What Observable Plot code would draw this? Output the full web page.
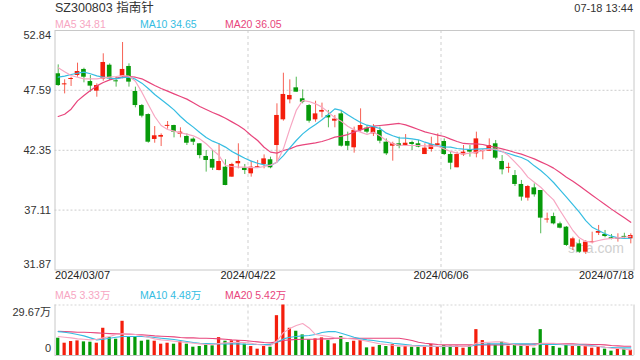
<!DOCTYPE html>
<html><head><meta charset="utf-8">
<script src="https://cdn.jsdelivr.net/npm/d3@7"></script>
<script src="https://cdn.jsdelivr.net/npm/@observablehq/plot@0.6"></script>
<style>
body{margin:0;background:#fff;}
#wrap{position:relative;width:640px;height:360px;overflow:hidden;font-family:"Liberation Sans",Arial,"Noto Sans CJK SC",sans-serif;color:#333;}
.t{position:absolute;white-space:nowrap;line-height:1;}
#wrap svg{position:absolute;left:0;}
</style></head><body><div id="wrap"></div>
<script>
const stockTitle = "SZ300803 指南针";
const stamp = "07-18 13:44";
const open = [49.05,48.08,48.55,48.90,49.43,48.37,47.53,48.58,49.80,48.43,
48.81,49.69,47.50,46.27,45.48,43.30,43.50,44.46,44.52,43.76,
43.56,43.33,42.92,41.81,41.55,40.58,40.87,40.00,41.17,40.79,
40.29,40.84,41.11,41.52,42.77,45.02,46.77,47.82,46.86,46.27,
45.02,45.69,45.40,44.90,45.54,43.12,42.57,44.08,44.29,43.79,
44.08,43.06,42.71,42.92,42.77,43.03,42.92,41.98,42.42,42.77,
43.12,41.98,40.82,41.95,42.39,42.04,42.25,42.27,42.92,41.37,
40.79,40.14,39.36,38.16,39.06,38.83,36.26,36.55,35.91,35.62,
33.87,34.16,33.43,34.28,35.09,34.98,34.69,34.57,34.80,34.60];
const high = [49.83,48.52,48.75,49.98,49.54,48.90,48.17,50.80,49.92,48.75,
51.79,49.92,47.88,46.36,45.54,44.43,43.79,44.87,44.55,44.32,
43.79,43.44,42.92,42.33,42.33,42.92,41.52,41.22,42.92,41.11,
41.40,41.46,41.95,41.75,46.42,49.10,48.52,48.75,47.64,46.36,
46.65,46.48,45.84,45.40,45.84,43.94,44.38,45.98,44.52,44.61,
44.38,43.35,43.06,43.50,43.73,43.15,43.21,42.92,43.50,43.79,
43.35,42.19,42.19,42.77,42.77,43.94,42.39,43.35,43.21,41.89,
41.22,40.58,39.71,39.27,39.41,38.83,36.85,36.85,36.06,35.68,
34.74,34.51,34.45,35.18,35.77,35.33,34.98,35.04,35.09,35.04];
const low = [47.95,47.29,47.94,48.75,48.26,47.44,47.00,48.40,48.46,47.88,
48.61,47.88,46.07,45.19,42.97,42.97,42.68,44.20,43.44,43.44,
42.77,42.77,41.60,40.44,40.58,40.55,39.25,39.98,40.73,40.23,
40.00,40.79,40.73,40.73,41.31,44.90,46.42,47.44,46.42,44.73,
44.81,45.19,44.32,44.32,42.63,42.33,42.10,43.94,43.79,43.56,
42.92,41.89,41.40,42.48,42.68,42.33,42.57,41.98,42.19,42.77,
41.89,40.64,40.82,41.81,41.75,41.69,41.52,42.27,41.52,40.20,
40.35,39.18,37.90,37.90,38.25,35.04,35.97,35.82,35.47,33.93,
33.58,33.34,33.23,34.16,34.89,34.69,34.51,34.31,34.60,34.16];
const close = [48.02,48.17,48.64,49.25,48.75,47.97,48.02,50.04,48.61,48.35,
49.43,48.32,46.27,45.34,43.06,43.62,43.65,44.52,43.94,43.94,
42.97,43.06,41.89,41.46,40.79,41.37,39.27,41.11,41.37,40.58,
40.87,40.90,41.60,40.82,45.40,47.24,47.15,47.44,46.56,44.90,
45.54,45.84,45.19,45.08,42.71,42.71,44.08,44.52,43.94,44.38,
43.15,42.04,42.92,42.71,42.97,42.86,42.63,42.54,42.83,42.92,
41.98,41.22,41.98,42.19,42.19,43.35,42.30,42.77,41.66,40.64,
40.84,39.36,38.25,39.18,38.45,36.41,36.32,35.91,35.53,34.02,
34.60,33.43,34.31,34.34,35.24,34.80,34.57,34.69,34.74,34.89];
const ma5 = [49.57,49.22,48.90,48.75,48.61,48.61,48.61,48.70,48.75,48.81,
48.90,48.84,48.40,47.44,46.36,45.31,44.52,44.17,44.03,43.88,
43.76,43.62,43.35,42.92,42.39,41.89,41.02,40.93,40.87,40.87,
40.84,40.84,40.93,41.05,41.31,42.48,44.23,45.84,46.71,46.62,
46.42,46.13,45.69,45.19,44.90,44.46,44.14,43.94,43.73,43.94,
43.62,43.21,42.92,42.80,42.77,42.77,42.77,42.74,42.71,42.71,
42.48,42.25,42.10,42.04,42.10,42.19,42.33,42.45,42.45,42.27,
41.89,41.31,40.73,40.00,39.56,39.12,38.54,38.01,37.08,36.20,
35.33,34.69,34.37,34.31,34.45,34.57,34.63,34.69,34.74,34.81];
const ma10 = [48.75,48.84,48.99,49.10,49.19,49.05,48.87,48.75,48.67,48.61,
48.72,48.75,48.58,48.23,47.76,47.24,46.80,46.36,45.89,45.31,
44.81,44.38,43.91,43.47,43.15,42.92,42.63,42.25,41.95,41.66,
41.40,41.22,41.08,41.02,41.31,41.89,42.57,43.21,43.79,44.23,
44.61,45.02,45.49,45.98,45.84,45.46,45.11,44.78,44.55,44.43,
44.26,43.85,43.62,43.44,43.41,43.35,43.27,43.06,42.89,42.74,
42.65,42.63,42.51,42.45,42.42,42.45,42.48,42.51,42.39,42.22,
42.07,41.89,41.72,41.46,40.99,40.58,40.09,39.53,38.89,38.25,
37.60,36.93,36.20,35.62,35.33,35.04,34.83,34.69,34.63,34.65];
const ma20 = [45.31,45.51,45.95,46.68,47.15,47.59,47.99,48.29,48.52,48.67,
48.78,48.81,48.75,48.61,48.32,48.02,47.76,47.53,47.29,47.06,
46.83,46.51,46.19,45.92,45.66,45.43,45.16,44.84,44.52,44.14,
43.65,43.21,42.62,42.19,42.10,42.33,42.48,42.71,42.83,42.92,
43.00,43.12,43.30,43.50,43.59,43.73,43.94,44.14,44.32,44.46,
44.52,44.58,44.64,44.70,44.58,44.38,44.17,43.96,43.82,43.68,
43.56,43.33,43.12,42.95,42.92,42.92,42.86,42.71,42.62,42.48,
42.33,42.16,42.01,41.81,41.60,41.34,41.08,40.79,40.41,40.00,
39.65,39.24,38.83,38.42,38.01,37.60,37.20,36.82,36.44,36.05];
// volume in 万
const vol = [10.15,7.22,8.20,8.59,8.00,7.81,7.22,16.0,10.5,9.56,
20.1,11.1,10.7,8.39,8.98,8.39,6.64,7.22,6.64,8.20,
6.64,4.88,5.27,6.05,5.66,10.5,8.39,8.59,8.78,6.64,
5.27,3.71,5.27,4.88,23.4,29.67,16.0,14.25,12.1,9.17,
9.76,10.35,8.78,6.83,11.13,7.61,8.39,8.78,4.49,4.88,
5.86,5.27,6.44,4.88,5.27,4.88,4.88,4.88,6.44,4.88,
5.86,5.47,5.47,4.29,5.47,15.2,8.78,6.83,5.86,7.81,
5.47,6.05,5.86,5.47,4.29,15.2,5.86,5.27,4.29,6.25,
5.27,5.27,5.86,4.29,5.27,3.71,2.54,3.71,3.71,3.12];
const vma5 = [11.13,10.74,10.35,9.76,9.56,9.17,9.56,10.35,11.13,12.30,
12.69,12.69,12.30,11.71,10.74,9.76,9.17,8.78,8.39,8.00,
7.61,7.22,6.83,6.44,6.44,7.03,7.42,7.61,7.81,7.61,
7.22,6.44,6.05,5.86,8.50,13.40,15.80,17.60,18.80,16.20,
12.30,11.71,11.13,10.35,10.35,9.96,9.56,9.17,8.39,7.61,
6.83,6.44,6.05,5.66,5.66,5.66,5.47,5.47,5.47,5.47,
5.47,5.47,5.47,5.27,5.47,7.22,7.61,7.81,8.00,8.00,
7.22,6.25,5.86,5.86,5.66,7.22,7.22,7.22,6.83,6.44,
6.25,6.05,5.66,5.47,5.47,4.88,4.29,4.10,3.71,3.33];
const vma10 = [14.05,13.66,13.08,12.30,11.52,10.35,9.17,9.56,10.15,10.74,
11.13,11.13,11.13,11.13,10.93,10.54,10.15,9.76,9.37,8.78,
8.20,7.61,7.22,7.03,6.83,6.83,6.83,6.83,6.83,6.64,
6.64,6.44,6.44,6.44,7.81,9.76,10.74,11.13,11.52,11.71,
12.30,13.47,14.05,14.05,13.08,11.91,10.74,9.76,9.17,8.78,
8.20,7.81,7.22,6.83,6.44,6.05,5.86,5.66,5.47,5.27,
5.27,5.27,5.27,5.27,5.47,6.25,6.64,6.83,6.83,6.83,
6.83,6.83,6.83,6.83,6.64,6.64,6.44,6.44,6.44,6.25,
6.25,6.25,6.05,5.66,5.27,4.88,4.68,4.49,4.49,4.48];
const vma20 = [14.25,14.05,13.86,13.66,13.66,13.47,13.27,13.08,12.88,12.69,
12.69,12.49,12.30,12.10,11.91,11.52,11.32,11.13,10.93,10.54,
10.35,10.35,10.15,10.15,9.96,9.76,9.56,9.17,8.98,8.78,
8.39,8.00,7.61,7.42,8.00,8.78,9.17,9.37,9.56,9.56,
9.56,9.76,9.76,9.96,9.96,9.96,10.15,10.15,10.15,10.15,
10.15,10.15,10.15,10.15,9.56,8.78,7.81,7.22,6.83,6.44,
6.25,6.25,6.25,6.25,6.25,6.25,6.25,6.25,6.25,6.25,
6.44,6.44,6.64,6.64,6.83,6.83,6.83,6.83,6.83,6.83,
6.83,6.64,6.64,6.44,6.44,6.25,5.86,5.66,5.47,5.42];
const priceTicks = [52.84, 47.59, 42.35, 37.11, 31.87];
const volTicks = [29.67, 0];
const dateLabels = ["2024/03/07", "2024/04/22", "2024/06/06", "2024/07/18"];
const dateIdx = [0, 30, 60, 90];
const maNames = ["MA5", "MA10", "MA20"];

const RED = "#f41e0c", GREEN = "#079a0a";
const C5 = "#f7a6c2", C10 = "#35bde2", C20 = "#e8457c";
const FONT = '"Liberation Sans", Arial, "Noto Sans CJK SC", sans-serif';
const N = close.length;
const rows = close.map((c, i) => ({i, o: open[i], h: high[i], l: low[i], c, v: vol[i],
  m5: ma5[i], m10: ma10[i], m20: ma20[i], vm5: vma5[i], vm10: vma10[i], vm20: vma20[i],
  col: c >= open[i] ? RED : GREEN}));
const minBody = 0.085;
const pad = d => Math.max(0, (minBody - Math.abs(d.o - d.c)) / 2);
const bodyLo = d => Math.min(d.o, d.c) - pad(d);
const bodyHi = d => Math.max(d.o, d.c) + pad(d);
const mid = d => d.i + 0.5;

const wrap = document.getElementById("wrap");
function addText(txt, left, top, size, color, right) {
  const s = document.createElement("div");
  s.className = "t";
  s.textContent = txt;
  s.style.fontSize = size + "px";
  s.style.color = color;
  s.style.top = top + "px";
  if (right) s.style.right = left + "px"; else s.style.left = left + "px";
  wrap.appendChild(s);
}

const gridDot = {stroke: "#d6d6d6", strokeDasharray: "2,2", strokeWidth: 1.2};
const gridDash = {stroke: "#cfcfcf", strokeDasharray: "3,3"};

const p1 = Plot.plot({
  width: 640, height: 290,
  marginTop: 30, marginBottom: 20.5, marginLeft: 54.5, marginRight: 6.5,
  x: {domain: [0, N], axis: null},
  y: {domain: [priceTicks[4], priceTicks[0]], axis: null},
  color: {type: "identity"},
  style: {fontFamily: FONT, fontSize: "11px", color: "#333", background: "transparent", overflow: "visible"},
  marks: [
    Plot.ruleY(priceTicks.slice(1, -1), gridDot),
    Plot.ruleX(dateIdx.slice(1, -1), gridDash),
    Plot.text(["sina.com"], {frameAnchor: "bottom-right", dx: -10, dy: -17, fill: "#d0d0d0", fontSize: 14}),
    Plot.ruleX(rows, {x: mid, y1: "l", y2: "h", stroke: "col", strokeOpacity: 0.7}),
    Plot.rect(rows, {x1: "i", x2: d => d.i + 1, y1: bodyLo, y2: bodyHi, fill: "col", insetLeft: 0.9, insetRight: 0.9}),
    Plot.line(rows, {x: mid, y: "m20", stroke: C20, strokeWidth: 1.2}),
    Plot.line(rows, {x: mid, y: "m10", stroke: C10, strokeWidth: 1.2}),
    Plot.line(rows, {x: mid, y: "m5", stroke: C5, strokeWidth: 1.2}),
    Plot.frame({stroke: "#c8c8c8"}),
    Plot.text(priceTicks.slice(1, -1), {y: d => d, text: d => d.toFixed(2), frameAnchor: "left", dx: -4, textAnchor: "end", fill: "#333"}),
    Plot.text(priceTicks.slice(0, 1), {y: d => d, text: d => d.toFixed(2), frameAnchor: "left", dx: -4, dy: 5, textAnchor: "end", fill: "#333"}),
    Plot.text(priceTicks.slice(-1), {y: d => d, text: d => d.toFixed(2), frameAnchor: "left", dx: -4, dy: -6, textAnchor: "end", fill: "#333"}),
    Plot.text([0], {x: i => dateIdx[i], text: i => dateLabels[i], frameAnchor: "bottom", dy: 9, textAnchor: "start", fill: "#222"}),
    Plot.text([1, 2], {x: i => dateIdx[i], text: i => dateLabels[i], frameAnchor: "bottom", dy: 9, textAnchor: "middle", fill: "#222"}),
    Plot.text([3], {x: i => dateIdx[i], text: i => dateLabels[i], frameAnchor: "bottom", dy: 9, textAnchor: "end", fill: "#222"})
  ]
});
p1.style.top = "0px";
wrap.appendChild(p1);

const p2 = Plot.plot({
  width: 640, height: 60,
  marginTop: 4.5, marginBottom: 5, marginLeft: 54.5, marginRight: 6.5,
  x: {domain: [0, N], axis: null},
  y: {domain: [0, volTicks[0]], axis: null},
  color: {type: "identity"},
  style: {fontFamily: FONT, fontSize: "11px", color: "#333", background: "transparent", overflow: "visible"},
  marks: [
    Plot.ruleY([volTicks[0]], gridDot),
    Plot.ruleX(dateIdx.slice(1, -1), gridDash),
    Plot.rect(rows, {x1: "i", x2: d => d.i + 1, y1: 0, y2: "v", fill: "col", insetLeft: 1.6, insetRight: 1.6}),
    Plot.line(rows, {x: mid, y: "vm20", stroke: C20, strokeWidth: 1.1}),
    Plot.line(rows, {x: mid, y: "vm10", stroke: C10, strokeWidth: 1.1}),
    Plot.line(rows, {x: mid, y: "vm5", stroke: C5, strokeWidth: 1.1}),
    Plot.ruleX(dateIdx.slice(0, 1).concat(dateIdx.slice(-1)), {stroke: "#c8c8c8"}),
    Plot.ruleY([0], {stroke: "#c8c8c8"}),
    Plot.text(volTicks.slice(0, 1), {y: d => d, text: d => d + "万", frameAnchor: "left", dx: -4, dy: 7.5, textAnchor: "end", fill: "#333"}),
    Plot.text(volTicks.slice(1), {y: d => d, text: d => String(d), frameAnchor: "left", dx: -4, dy: -7, textAnchor: "end", fill: "#333"})
  ]
});
p2.style.top = "300px";
wrap.appendChild(p2);

addText(stockTitle, 55, 2, 12.5, "#333");
addText(stamp, 7, 3, 11, "#333", true);
const legX = [55, 140, 225];
const legC = [C5, C10, C20];
const pLast = [ma5[N - 1], ma10[N - 1], ma20[N - 1]];
const vLast = [vma5[N - 1], vma10[N - 1], vma20[N - 1]];
maNames.forEach((n, k) => {
  addText(n + " " + pLast[k].toFixed(2), legX[k], 18.8, 10.5, legC[k]);
  addText(n + " " + vLast[k].toFixed(2) + "万", legX[k], 289.6, 10.5, legC[k]);
});
</script></body></html>
